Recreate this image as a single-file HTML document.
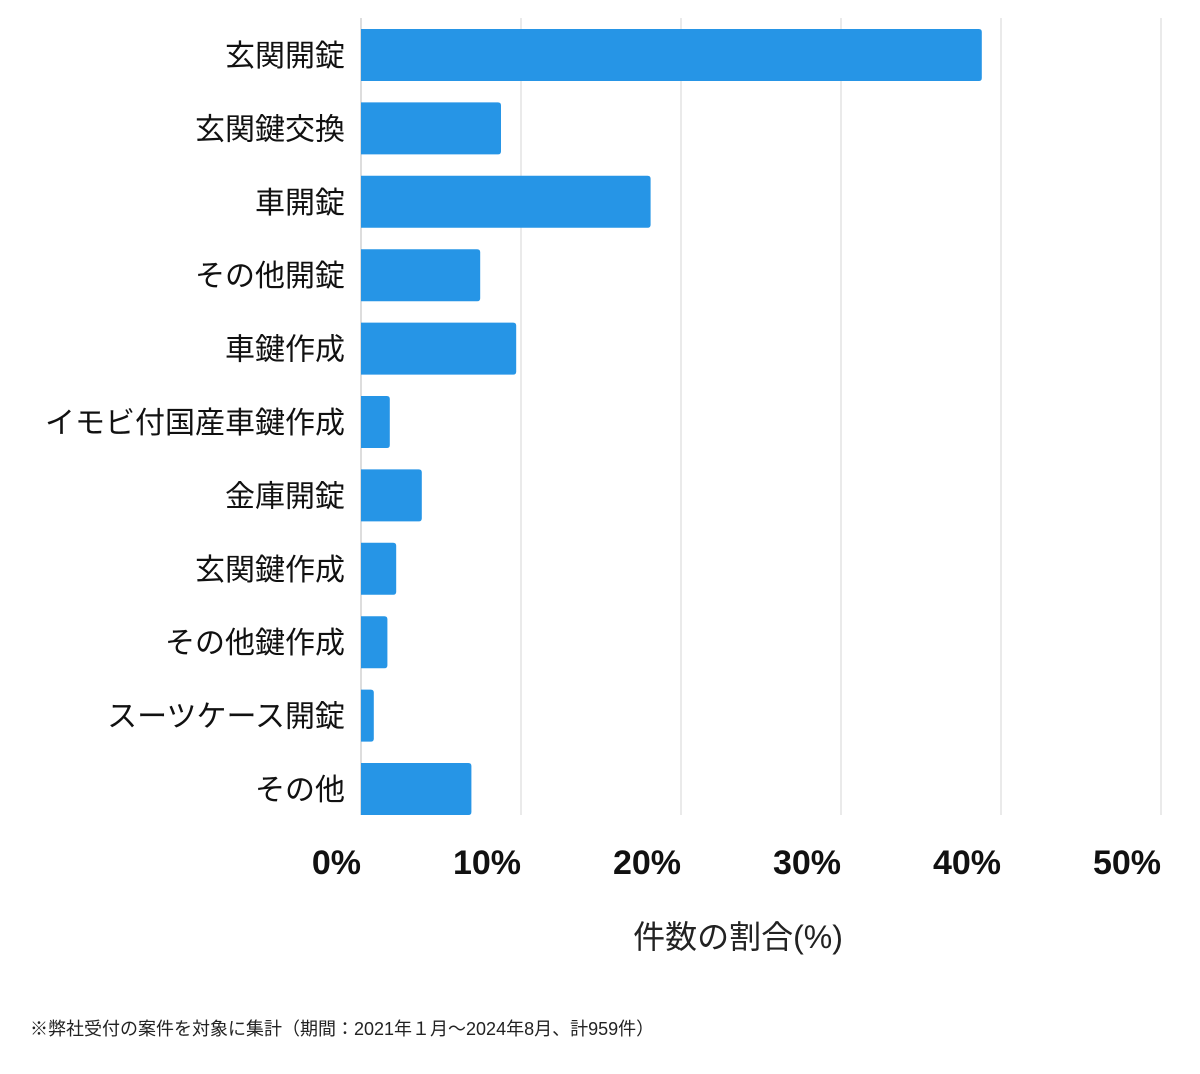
<!DOCTYPE html>
<html><head><meta charset="utf-8">
<style>
html,body{margin:0;padding:0;background:#fff;}
body{width:1200px;height:1069px;overflow:hidden;font-family:"Liberation Sans","Noto Sans CJK JP",sans-serif;}
</style></head>
<body>
<svg id="chart" width="1200" height="1069" xmlns="http://www.w3.org/2000/svg" style="font-family:'Liberation Sans','Noto Sans CJK JP',sans-serif">
<g id="grid"></g>
<g id="bars"></g>
<g id="ylabels"></g>
<g id="xticks"></g>
<text x="738" y="948" font-size="32" text-anchor="middle" fill="#222">件数の割合(%)</text>
<text x="30" y="1035" font-size="18" fill="#222">※弊社受付の案件を対象に集計（期間：2021年１月〜2024年8月、計959件）</text>
</svg>
<script>
const categories=["玄関開錠","玄関鍵交換","車開錠","その他開錠","車鍵作成","イモビ付国産車鍵作成","金庫開錠","玄関鍵作成","その他鍵作成","スーツケース開錠","その他"];
const values=[38.8,8.75,18.1,7.45,9.7,1.8,3.8,2.2,1.65,0.8,6.9];
const ticks=[0,10,20,30,40,50];
const tickLabels=["0%","10%","20%","30%","40%","50%"];
const NS="http://www.w3.org/2000/svg";
const x0=361,pxPer=16,top0=29,pitch=73.4,bh=52;
const xs=v=>x0+v*pxPer;
const ys=i=>top0+i*pitch;
function mk(t,a,p){const e=document.createElementNS(NS,t);for(const k in a)e.setAttribute(k,a[k]);p.appendChild(e);return e;}
const grid=document.getElementById('grid'),bars=document.getElementById('bars'),yl=document.getElementById('ylabels'),xt=document.getElementById('xticks');
ticks.forEach((t,i)=>{
 const l=mk('line',{x1:xs(t),x2:xs(t),y1:18,y2:815,stroke:i==0?'#bbb':'#d6d6d6','stroke-width':1},grid);
 
 
 const tx=mk('text',{x:xs(t),y:874,'font-size':34,'font-weight':'bold','text-anchor':'end',fill:'#111'},xt);
 tx.textContent=tickLabels[i];
 
 
});
categories.forEach((c,i)=>{
 const w=xs(values[i])-x0;
 const r=Math.min(3,w/2);
 const y=ys(i);
 const p=mk('path',{d:`M${x0},${y}H${x0+w-r}Q${x0+w},${y} ${x0+w},${y+r}V${y+bh-r}Q${x0+w},${y+bh} ${x0+w-r},${y+bh}H${x0}Z`,fill:'#2695e6'},bars);
 
 
 const t=mk('text',{x:345,y:y+bh/2+11,'font-size':30,'text-anchor':'end',fill:'#111'},yl);
 t.textContent=c;
 
 
});
</script>
</body></html>
